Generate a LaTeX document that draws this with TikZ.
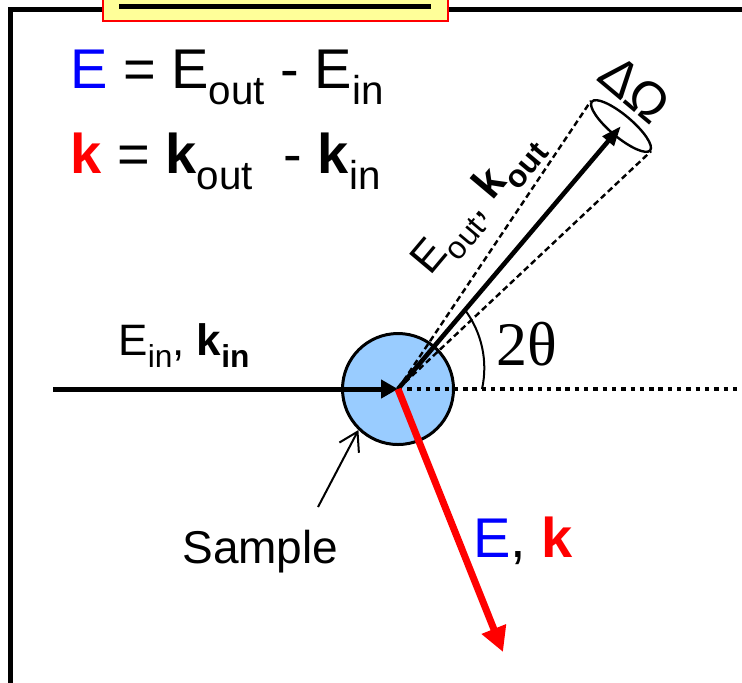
\documentclass[tikz,border=0pt]{standalone}
\usepackage{fontspec}
\setmainfont{Liberation Sans}
\newfontfamily\timesfont{Liberation Serif}
\usetikzlibrary{arrows.meta,shapes.geometric}
\definecolor{xblue}{RGB}{0,0,255}
\definecolor{xred}{RGB}{255,0,0}
\definecolor{xsample}{RGB}{153,204,255}
\definecolor{xyellow}{RGB}{255,255,153}
\newcommand{\lo}[1]{\raisebox{-0.29em}{\scalebox{0.72}{#1}}}
\newcommand{\fs}[1]{\fontsize{#1}{#1}\selectfont}

\begin{document}
\begin{tikzpicture}[
  x=0.5pt, y=-0.5pt,
  lbl/.style={inner sep=0pt, font=\fs{22pt}},
  eq/.style={inner sep=0pt, anchor=base west, font=\fs{28pt}},
  beam/.style={line width=2.5pt, -{Triangle[length=8.5pt,width=9pt]}},
  cone/.style={dash pattern=on 3pt off 1.8pt, line width=1.2pt}
]
\useasboundingbox (0,0) rectangle (742,682);
% frame and title bar
\draw[line width=2.25pt] (10.5,9.5) rectangle (800,720);
\draw[draw=xred, line width=1.2pt, fill=xyellow] (103,-30) rectangle (448,21);
\draw[line width=2.5pt] (119,6) -- (431,6);

% sample and beams
\node[circle, draw, line width=1.5pt, fill=xsample, minimum size=55.5pt, inner sep=0pt] (smp) at (398,389) {};
\node[ellipse, draw, line width=1.2pt, minimum width=38pt, minimum height=11pt, inner sep=0pt, rotate=-40] (det) at (621,126) {};
\coordinate (src) at (53,389);
\coordinate (far) at (760,389);
\coordinate (scat) at (503,652);
\coordinate (ptr) at (318,507);

\draw[line width=2.2pt, dash pattern=on 2.2pt off 2.45pt] (smp.center) -- (far);
\draw[cone] (smp.center) -- (det.west);
\draw[cone] (smp.center) -- (det.east);
\draw[line width=2.3pt, -{Triangle[length=10pt,width=7pt]}] (smp.center) -- (det.center);
\draw[beam] (src) -- (smp.center);
\draw[draw=xred, line width=3.5pt, -{Triangle[length=12.4pt,width=12.4pt]}] (smp.center) -- (scat);
\draw[line width=1pt] (482,389) arc[start angle=-12.5, end angle=37, radius=48.5pt];
\draw[line width=1pt, -{Straight Barb[length=9pt,width=11pt]}] (ptr) -- (smp.226);

% labels
\node[eq] (eqE) at (70,88) {\textcolor{xblue}{E} = E\lo{out} - E\lo{in}};
\node[eq] (eqK) at (70,173) {\textcolor{xred}{\textbf{k}} = \textbf{k}\lo{out}\ \ - \textbf{k}\lo{in}};
\node[lbl, anchor=base west] (inlbl) at (118,355) {E\lo{in}, \textbf{k\lo{in}}};
\node[lbl, rotate=50] (outlbl) at (478,205) {E\lo{out}, \textbf{k\lo{out}}};
\node[inner sep=0pt, rotate=-40, font=\fs{26pt}] (dom) at (635,89) {ΔΩ};
\node[inner sep=0pt, font=\timesfont\fs{31pt}] (ang) at (527,344) {2θ};
\node[eq] (ek) at (473,557) {\textcolor{xblue}{E}, \textcolor{xred}{\textbf{k}}};
\node[lbl, anchor=base west, font=\fs{23pt}] (smplbl) at (182,563) {Sample};
\end{tikzpicture}
\end{document}
